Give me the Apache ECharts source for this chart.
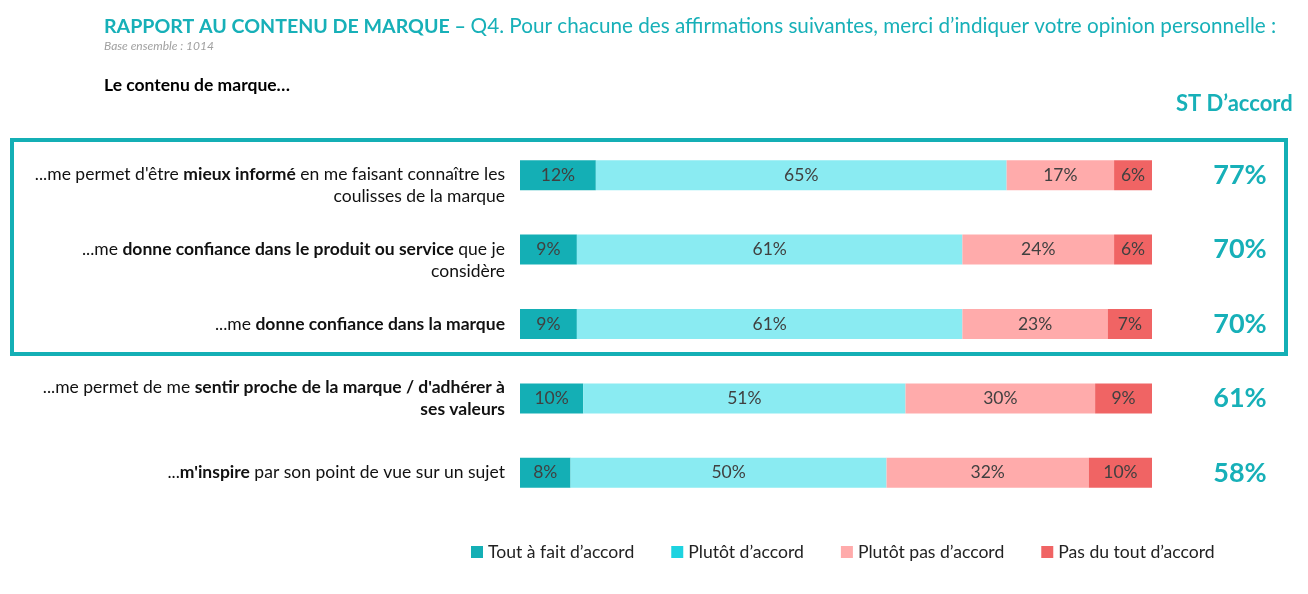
<!DOCTYPE html>
<html><head><meta charset="utf-8">
<script src="https://cdn.jsdelivr.net/npm/echarts@6/dist/echarts.min.js"></script>
<style>html,body{margin:0;padding:0;background:#fff}#c{width:1308px;height:594px}</style>
</head><body><div id="c"></div>
<script>
const categories = [
  "{n|...me permet d'être }{b|mieux informé}{n| en me faisant connaître les}\n{n|coulisses de la marque}",
  "{n|...me }{b|donne confiance dans le produit ou service}{n| que je}\n{n|considère}",
  "{n|...me }{b|donne confiance dans la marque}",
  "{n|...me permet de me }{b|sentir proche de la marque / d'adhérer à}\n{b|ses valeurs}",
  "{n|...}{b|m'inspire}{n| par son point de vue sur un sujet}"
];
const seriesNames = ["Tout à fait d’accord", "Plutôt d’accord", "Plutôt pas d’accord", "Pas du tout d’accord"];
const toutAFait = [12, 9, 9, 10, 8];
const plutot = [65, 61, 61, 51, 50];
const plutotPas = [17, 24, 23, 30, 32];
const pasDuTout = [6, 6, 7, 9, 10];
const stAccord = [77, 70, 70, 61, 58];

const barColors = ["#14AFB5", "#8AEBF2", "#FFABAB", "#F06464"];
const legendColors = ["#14AFB5", "#1DD3E0", "#FFABAB", "#F06464"];
const values = [toutAFait, plutot, plutotPas, pasDuTout];
const FONT = "Lato";
const teal = "#17B0B8";
// labels whose first line sits level with the bar
const shiftedLabels = [0, 1];

const chart = echarts.init(document.getElementById('c'));
chart.setOption({
  animation: false,
  textStyle: { fontFamily: FONT },
  grid: { left: 520, right: 156, top: 138, height: 372 },
  xAxis: { type: 'value', min: 0, max: 100, show: false },
  yAxis: [{
    type: 'category', inverse: true,
    data: categories.map((c, i) => shiftedLabels.includes(i) ? { value: c, textStyle: { padding: [21, 0, 0, 0] } } : c),
    axisLine: { show: false }, axisTick: { show: false },
    axisLabel: {
      margin: 15, align: 'right', lineHeight: 22,
      rich: {
        n: { fontFamily: FONT, fontSize: 17.5, color: '#111', lineHeight: 22, align: 'right' },
        b: { fontFamily: FONT, fontSize: 17.5, color: '#111', fontWeight: 'bold', lineHeight: 22, align: 'right' }
      }
    }
  }, {
    type: 'category', data: stAccord.map(v => v + '%'), inverse: true, position: 'right',
    axisLine: { show: false }, axisTick: { show: false },
    axisLabel: { margin: 88, align: 'center', fontFamily: FONT, fontSize: 27, fontWeight: 'bold', color: teal }
  }],
  legend: {
    left: 466, top: 538, itemWidth: 12, itemHeight: 12, itemGap: 37,
    textStyle: { fontFamily: FONT, fontSize: 17.6, color: '#222' },
    data: seriesNames.map((n, i) => ({ name: n, icon: 'rect', itemStyle: { color: legendColors[i] } }))
  },
  series: seriesNames.map((n, i) => ({
    name: n, type: 'bar', stack: 'all', barWidth: 30,
    data: values[i],
    itemStyle: { color: barColors[i] },
    label: { show: true, position: 'inside', formatter: '{c}%', fontFamily: FONT, fontSize: 17.5, color: '#404040' }
  })),
  graphic: [
    { type: 'text', left: 104, top: 16, style: { rich: {
        b: { fontFamily: FONT, fontSize: 19.6, fontWeight: 'bold', fill: teal },
        n: { fontFamily: FONT, fontSize: 20.7, fill: teal } },
        text: '{b|RAPPORT AU CONTENU DE MARQUE – }{n|Q4. Pour chacune des affirmations suivantes, merci d’indiquer votre opinion personnelle :}' } },
    { type: 'text', left: 104, top: 40, style: { text: 'Base ensemble : 1014', fontFamily: FONT, fontSize: 12, fontStyle: 'italic', fill: '#A0A0A0' } },
    { type: 'text', left: 104, top: 76, style: { text: 'Le contenu de marque…', fontFamily: FONT, fontSize: 17.5, fontWeight: 'bold', fill: '#000' } },
    { type: 'text', left: 1176, top: 93, style: { text: 'ST D’accord', fontFamily: FONT, fontSize: 22, fontWeight: 'bold', fill: teal } },
    { type: 'rect', shape: { x: 12, y: 140, width: 1274, height: 214 }, style: { fill: 'none', stroke: '#14AFB5', lineWidth: 4 } }
  ]
});
</script></body></html>
